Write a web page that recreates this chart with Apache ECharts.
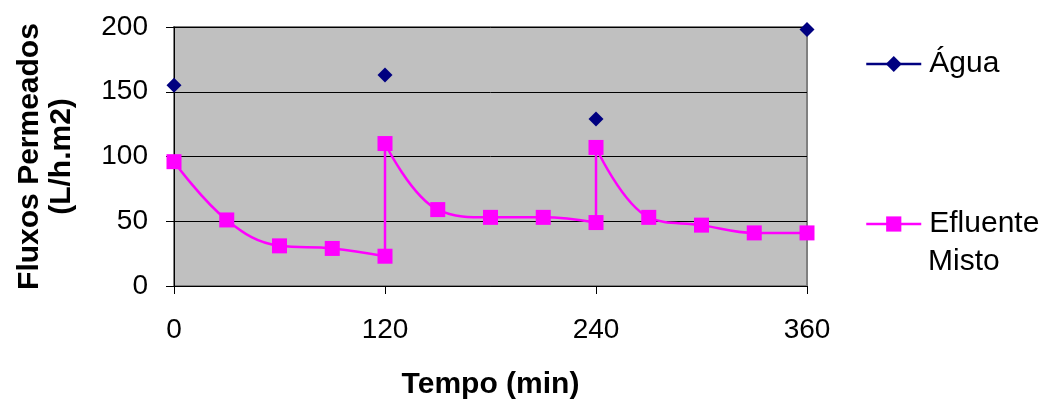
<!DOCTYPE html>
<html>
<head>
<meta charset="utf-8">
<script src="https://cdn.jsdelivr.net/npm/echarts@6/dist/echarts.min.js"></script>
<style>
  html, body { margin: 0; padding: 0; background: #ffffff; }
  #chart { width: 1047px; height: 400px; }
</style>
</head>
<body>
<div id="chart"></div>
<script>
// Tempo (min) and fluxos permeados (L/h.m2)
const aguaTempo = [0, 120, 240, 360];
const aguaFluxo = [155, 163, 129, 198];

const efluenteTempo = [0, 30, 60, 90, 120, 120, 150, 180, 210, 240, 240, 270, 300, 330, 360];
const efluenteFluxo = [96, 51, 31, 29, 23, 110, 59, 53, 53, 49, 107, 53, 47, 41, 41];

const xTicks = [0, 120, 240, 360];
const yTicks = [0, 50, 100, 150, 200];

const FONT = '"Liberation Sans", Arial, sans-serif';

function pairs(xs, ys) {
  return xs.map((x, i) => [x, ys[i]]);
}

const chart = echarts.init(document.getElementById('chart'), null, { renderer: 'canvas' });

chart.setOption({
  backgroundColor: '#ffffff',
  animation: false,
  textStyle: { fontFamily: FONT },
  grid: {
    left: 174, right: 240, top: 27, bottom: 114,
    outerBoundsMode: 'none',
    containLabel: false,
    show: true,
    backgroundColor: '#c0c0c0',
    borderColor: '#808080',
    borderWidth: 2
  },
  xAxis: {
    type: 'value',
    min: xTicks[0],
    max: xTicks[xTicks.length - 1],
    interval: 120,
    name: 'Tempo (min)',
    nameLocation: 'middle',
    nameGap: 84,
    nameTextStyle: { fontFamily: FONT, fontSize: 30, fontWeight: 'bold', color: '#000' },
    axisLine: { show: true, onZero: false, lineStyle: { color: '#000', width: 1 } },
    axisTick: { show: true, inside: false, length: 8, lineStyle: { color: '#000' } },
    axisLabel: { fontFamily: FONT, fontSize: 28, color: '#000', margin: 30 },
    splitLine: { show: false }
  },
  yAxis: {
    type: 'value',
    min: yTicks[0],
    max: yTicks[yTicks.length - 1],
    interval: 50,
    name: 'Fluxos Permeados\n(L/h.m2)',
    nameLocation: 'middle',
    nameGap: 96,
    nameTextStyle: { fontFamily: FONT, fontSize: 30, fontWeight: 'bold', color: '#000', lineHeight: 32 },
    axisLine: { show: true, onZero: false, lineStyle: { color: '#000', width: 1 } },
    axisTick: { show: true, inside: false, length: 8, lineStyle: { color: '#000' } },
    axisLabel: { fontFamily: FONT, fontSize: 28, color: '#000', margin: 26 },
    splitLine: { show: true, lineStyle: { color: '#000', width: 1 } }
  },
  legend: [
    {
      orient: 'vertical',
      left: 865,
      top: 49,
      padding: 0,
      itemWidth: 55,
      itemHeight: 20,
      selectedMode: false,
      textStyle: { fontFamily: FONT, fontSize: 30, color: '#000', padding: [0, 0, 0, 3] },
      data: [{
        name: 'Água',
        itemStyle: { color: '#000080' },
        lineStyle: { color: '#000080', width: 2.5, opacity: 1 }
      }]
    },
    {
      orient: 'vertical',
      left: 865,
      top: 209,
      padding: 0,
      itemWidth: 55,
      itemHeight: 19,
      selectedMode: false,
      formatter: () => 'Efluente',
      textStyle: { fontFamily: FONT, fontSize: 30, color: '#000', padding: [0, 0, 0, 3] },
      data: [{
        name: 'Efluente Misto',
        itemStyle: { color: '#ff00ff' },
        lineStyle: { color: '#ff00ff', width: 2.5, opacity: 1 }
      }]
    }
  ],
  graphic: [{
    type: 'text',
    left: 928,
    top: 247,
    style: { text: 'Misto', font: '30px ' + FONT, fill: '#000' }
  }],
  series: [
    {
      name: 'Água',
      type: 'line',
      data: pairs(aguaTempo, aguaFluxo),
      symbol: 'diamond',
      symbolSize: 15,
      itemStyle: { color: '#000080' },
      lineStyle: { width: 0, opacity: 0 },
      clip: false,
      z: 3
    },
    {
      name: 'Efluente Misto',
      type: 'line',
      data: pairs(efluenteTempo, efluenteFluxo),
      smooth: 0.4,
      symbol: 'rect',
      symbolSize: 15,
      itemStyle: { color: '#ff00ff' },
      lineStyle: { color: '#ff00ff', width: 2.5 },
      clip: false,
      z: 2
    }
  ]
});
</script>
</body>
</html>
